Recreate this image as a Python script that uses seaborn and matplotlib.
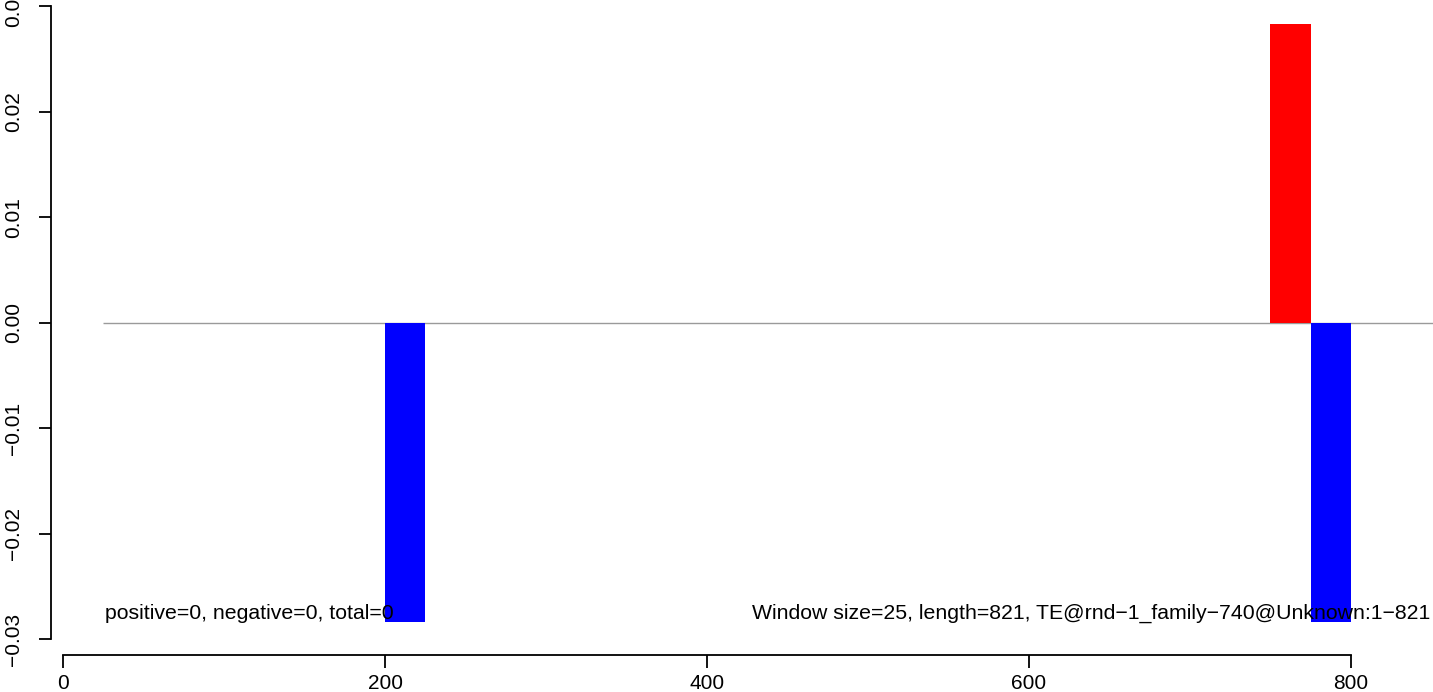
import pandas as pd
import matplotlib
matplotlib.use("Agg")
import matplotlib.pyplot as plt
import seaborn as sns

# windows along the TE (start position, signed value, colour)
window_size = 25
win_start = [200, 750, 775]
win_value = [-0.0283, 0.0283, -0.0283]
win_color = ["blue", "red", "blue"]

x_ticks = [0, 200, 400, 600, 800]
y_ticks = [-0.03, -0.02, -0.01, 0.00, 0.01, 0.02, 0.03]

left_note = "positive=0, negative=0, total=0"
right_note = ("Window size=25, length=821, "
              "TE@rnd\u22121_family\u2212740@Unknown:1\u2212821")

sns.set_style("white")
plt.rcParams["font.family"] = ["Liberation Sans", "DejaVu Sans"]
plt.rcParams["text.color"] = "black"

df = pd.DataFrame({
    "mid": [s + window_size / 2 for s in win_start],
    "value": win_value,
    "col": win_color,
})

fig = plt.figure(figsize=(14.33, 6.92), dpi=100)
ax = fig.add_axes([51 / 1433, 37 / 692, 1382 / 1433, 655 / 692])

sns.barplot(data=df, x="mid", y="value", hue="col",
            palette={"red": "red", "blue": "blue"},
            native_scale=True, width=1.0, dodge=False,
            legend=False, saturation=1, linewidth=0, ax=ax)

ax.hlines(0, 25, 870, color="#9a9a9a", lw=1.0, zorder=0)

ax.set_xlim(-7.5, 851)
ax.set_ylim(-0.03147, 0.0306)

ax.set_xticks(x_ticks)
ax.set_xticklabels([str(t) for t in x_ticks])
ax.set_yticks(y_ticks)
ax.set_yticklabels([f"{t:.2f}".replace("-", "\u2212") for t in y_ticks],
                   rotation=90, va="center")
ax.set_xlabel("")
ax.set_ylabel("")

for side in ["top", "right"]:
    ax.spines[side].set_visible(False)
ax.spines["left"].set_bounds(-0.03, 0.03)
ax.spines["bottom"].set_bounds(0, 800)
for side in ["left", "bottom"]:
    ax.spines[side].set_color("black")
    ax.spines[side].set_linewidth(1.3)

ax.tick_params(axis="both", direction="out", length=9, width=1.3,
               color="black", labelsize=15, labelcolor="black",
               bottom=True, left=True)
ax.tick_params(axis="x", pad=4.5)
ax.tick_params(axis="y", pad=11)

ax.text(26, -0.0275, left_note, ha="left", va="center",
        fontsize=15.3, color="black")
ax.text(849, -0.0275, right_note, ha="right", va="center",
        fontsize=15.3, color="black")

fig.savefig("out.png", dpi=100)
